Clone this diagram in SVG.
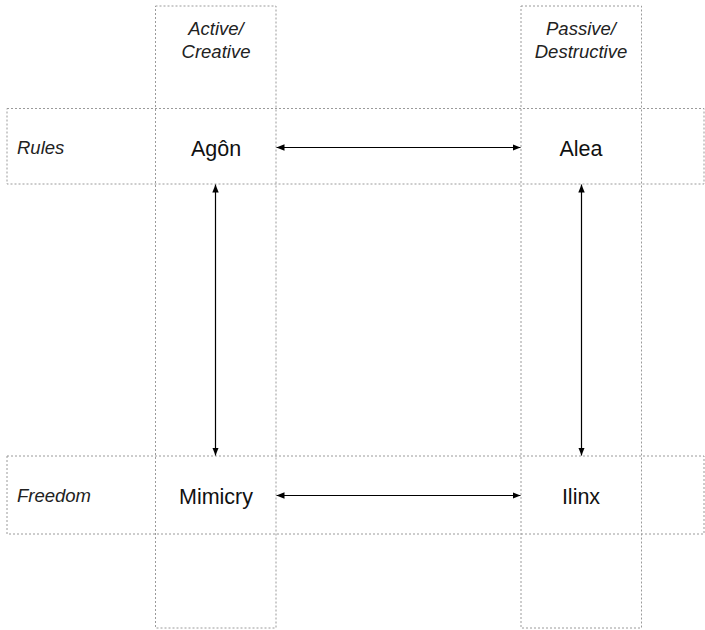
<svg xmlns="http://www.w3.org/2000/svg" width="705" height="630" viewBox="0 0 705 630">
  <style>
    .grid { fill: none; stroke: #9a9a9a; stroke-width: 1; stroke-dasharray: 2 2; }
    .head { font-family: "Liberation Sans", Arial, sans-serif; font-style: italic; font-size: 18.5px; fill: #222; }
    .name { font-family: "Liberation Sans", Arial, sans-serif; font-size: 21.5px; fill: #111; text-anchor: middle; }
    .link { stroke: #000; stroke-width: 1.2; fill: none; marker-start: url(#tip); marker-end: url(#tip); }
  </style>
  <defs>
    <marker id="tip" viewBox="0 0 10 10" refX="10" refY="5" markerWidth="8" markerHeight="8" markerUnits="userSpaceOnUse" orient="auto-start-reverse">
      <path d="M0,1 L10,5 L0,9 z" fill="#000"/>
    </marker>
  </defs>
  <rect width="705" height="630" fill="#fff"/>

  <!-- dotted guide grid: two columns, two rows -->
  <g id="grid">
    <rect class="grid" x="155.5" y="6" width="120.5" height="622"/>
    <rect class="grid" x="521" y="6" width="120.5" height="622"/>
    <rect class="grid" x="7" y="108.5" width="697" height="75.5"/>
    <rect class="grid" x="7" y="456" width="697" height="78"/>
  </g>

  <!-- column and row headings -->
  <g id="col-active" class="head" text-anchor="middle">
    <text x="216" y="35">Active/</text>
    <text x="216" y="58">Creative</text>
  </g>
  <g id="col-passive" class="head" text-anchor="middle">
    <text x="581" y="35">Passive/</text>
    <text x="581" y="58">Destructive</text>
  </g>
  <g id="row-rules" class="head">
    <text x="17" y="154">Rules</text>
  </g>
  <g id="row-freedom" class="head">
    <text x="17" y="502">Freedom</text>
  </g>

  <!-- game categories -->
  <g id="agon"><text class="name" x="216" y="156">Agôn</text></g>
  <g id="alea"><text class="name" x="581" y="156">Alea</text></g>
  <g id="mimicry"><text class="name" x="216" y="504">Mimicry</text></g>
  <g id="ilinx"><text class="name" x="581" y="504">Ilinx</text></g>

  <!-- double-headed connectors -->
  <g id="connectors">
    <line class="link" x1="276.5" y1="147.5" x2="520.5" y2="147.5"/>
    <line class="link" x1="276.5" y1="495.5" x2="520.5" y2="495.5"/>
    <line class="link" x1="215.5" y1="184.5" x2="215.5" y2="455.5"/>
    <line class="link" x1="581.5" y1="184.5" x2="581.5" y2="455.5"/>
  </g>
</svg>
